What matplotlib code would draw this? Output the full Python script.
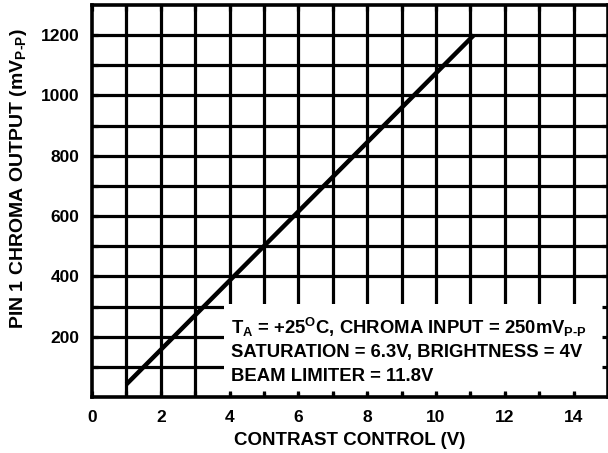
import matplotlib.pyplot as plt
from matplotlib.patches import Rectangle
import numpy as np

plt.rcParams['font.family'] = 'Liberation Sans'
plt.rcParams['font.weight'] = 'bold'
plt.rcParams['mathtext.fontset'] = 'custom'
plt.rcParams['mathtext.rm'] = 'Liberation Sans:bold'
plt.rcParams['mathtext.it'] = 'Liberation Sans:bold'
plt.rcParams['mathtext.bf'] = 'Liberation Sans:bold'

# data
contrast = [1.0, 11.1]          # V
chroma_out = [42, 1200]         # mVp-p

x_ticks = [0, 2, 4, 6, 8, 10, 12, 14]
y_ticks = [200, 400, 600, 800, 1000, 1200]
x_grid = np.arange(1, 15)
y_grid = np.arange(100, 1300, 100)

fig = plt.figure(figsize=(6.08, 4.53), dpi=100)
ax = fig.add_axes([0.1513, 0.1236, 0.8487, 0.8654])

ax.set_xlim(0, 15)
ax.set_ylim(0, 1300)

# grid drawn by hand so the note box can hide it but not the ticks
ax.vlines(x_grid, 0, 1300, colors='black', lw=2.3, zorder=1)
ax.hlines(y_grid, 0, 15, colors='black', lw=2.3, zorder=1)

ax.add_patch(Rectangle((3.85, 12), 11.15, 296, facecolor='white',
                       edgecolor='none', zorder=1.5))

ax.plot(contrast, chroma_out, color='black', lw=3.2, zorder=3,
        solid_capstyle='butt')

ax.set_xticks(x_ticks)
ax.set_xticks(x_grid, minor=True)
ax.set_yticks(y_ticks)
ax.set_yticks(y_grid, minor=True)
ax.tick_params(which='both', direction='in', length=4, width=2.3,
               top=True, right=True, labelsize=12.5, pad=9)
for lbl in ax.get_xticklabels() + ax.get_yticklabels():
    lbl.set_fontweight('bold')
for s in ax.spines.values():
    s.set_linewidth(2.6)

ax.set_xlabel('CONTRAST CONTROL (V)', fontsize=13.5, fontweight='bold')
ax.set_ylabel(r'PIN 1 CHROMA OUTPUT (mV$_{\mathrm{P\text{-}P}}$)', fontsize=14,
              fontweight='bold')
ax.xaxis.set_label_coords(0.5, -0.11)
ax.xaxis.label.set_va('center')
ax.yaxis.set_label_coords(-0.143, 0.556)
ax.yaxis.label.set_va('center')

note = [r'T$_{\mathrm{A}}$ = +25$^{\mathrm{O}}$C, CHROMA INPUT = 250mV$_{\mathrm{P\text{-}P}}$',
        'SATURATION = 6.3V, BRIGHTNESS = 4V',
        'BEAM LIMITER = 11.8V']
ax.text(4.05, 232, note[0], fontsize=13.3, fontweight='bold', va='center', zorder=4)
ax.text(4.05, 147, note[1], fontsize=13.3, fontweight='bold', va='center', zorder=4)
ax.text(4.05, 67, note[2], fontsize=13.3, fontweight='bold', va='center', zorder=4)

fig.savefig('out.png', dpi=100)
